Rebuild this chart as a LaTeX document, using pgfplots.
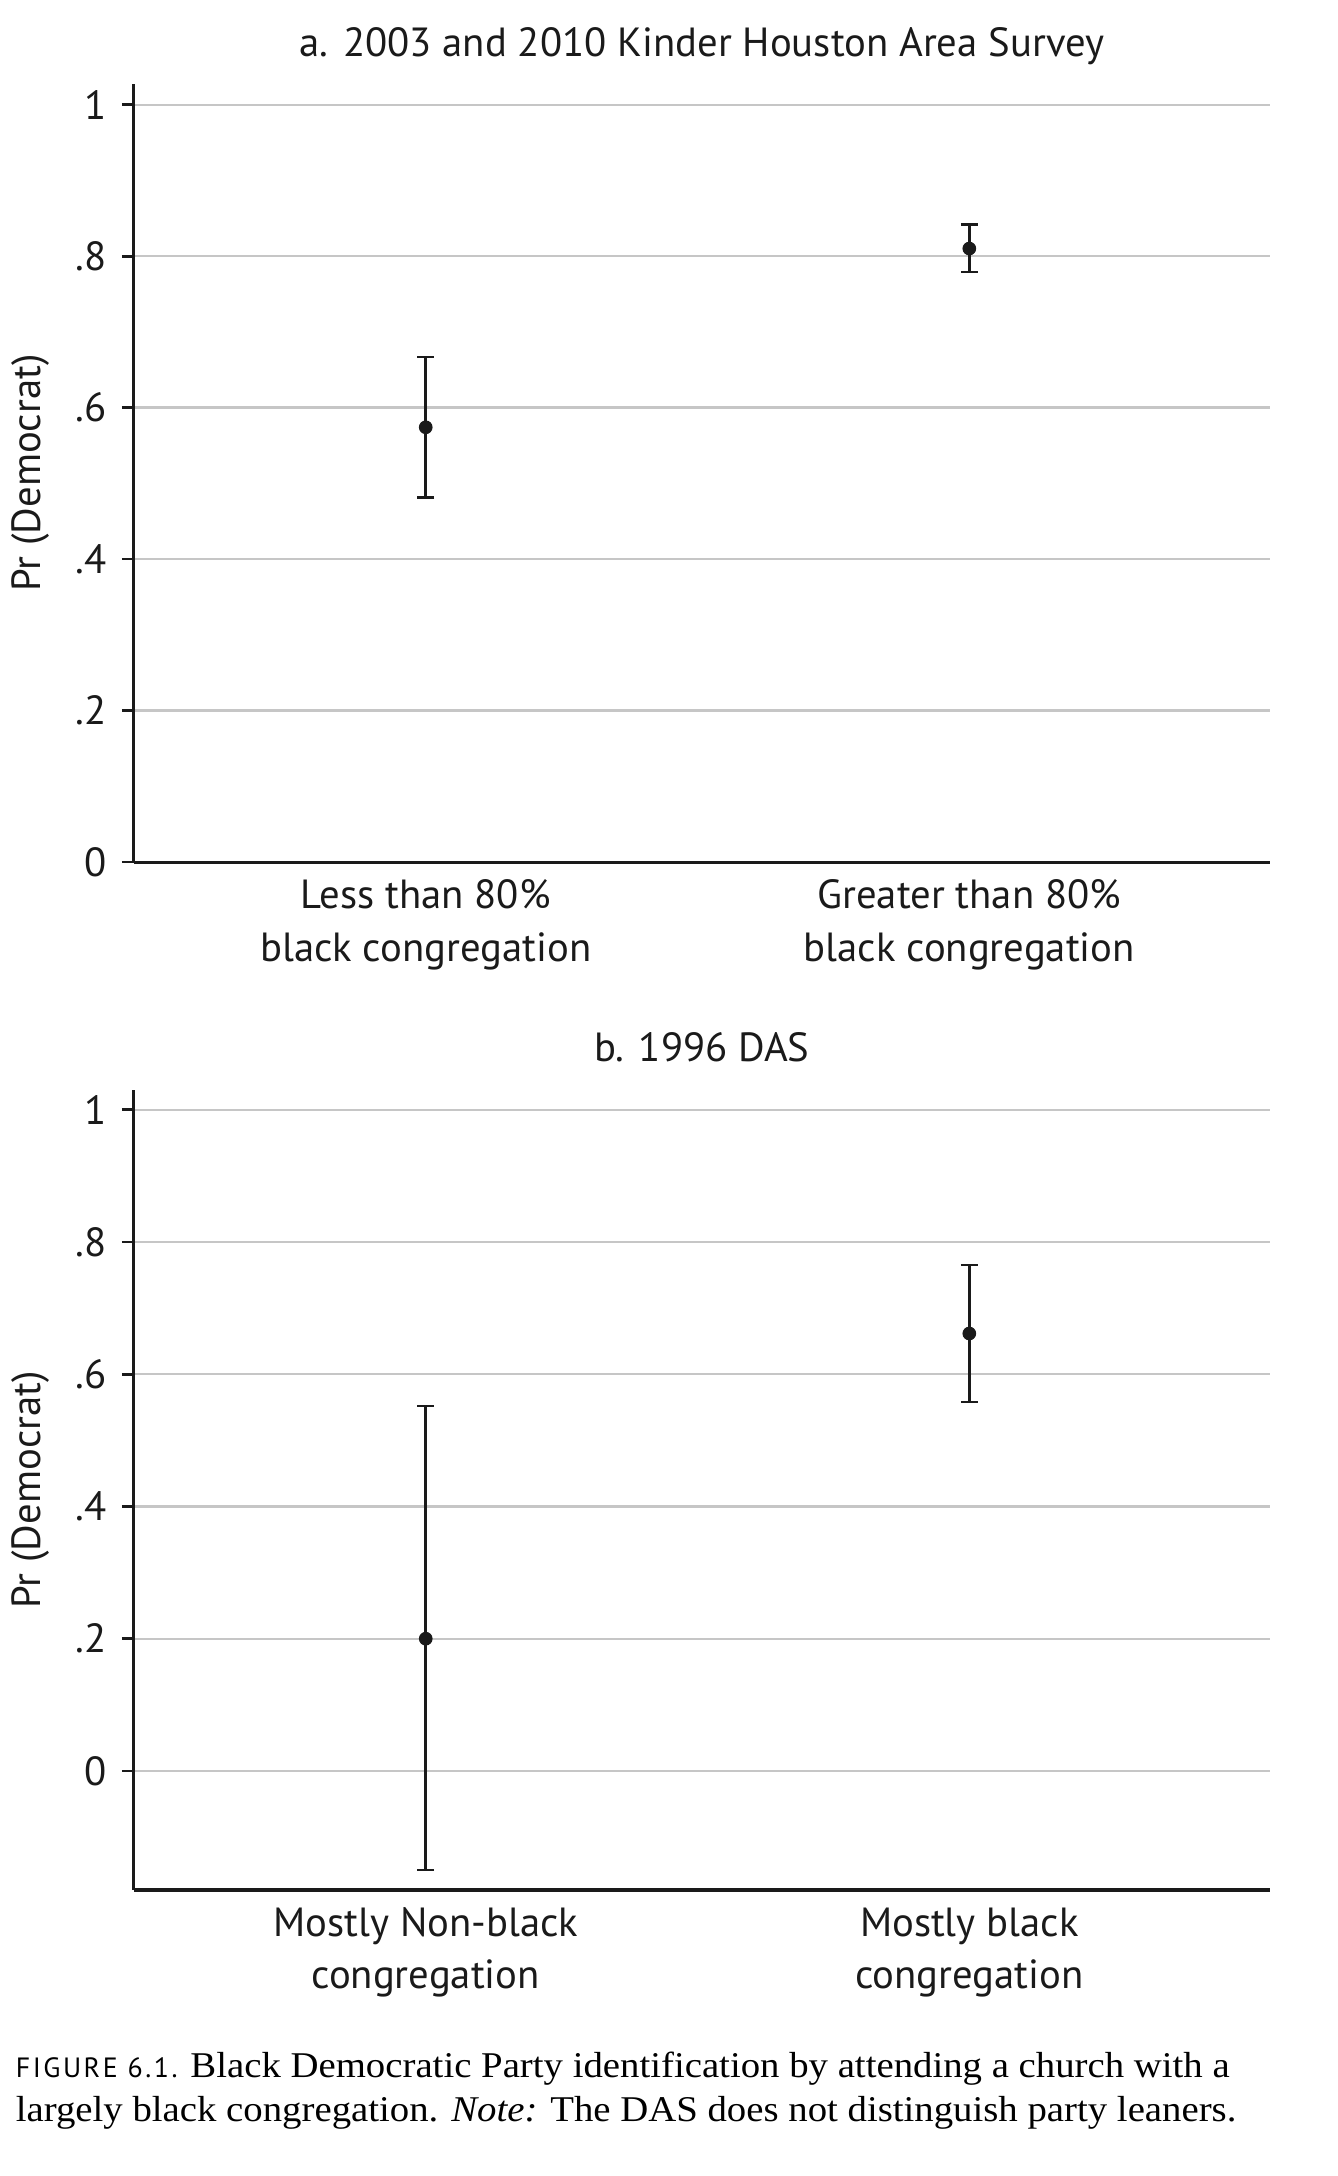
\documentclass[border=0pt]{standalone}
\usepackage{fontspec}
\setmainfont{Liberation Serif}
\newfontfamily\chartfont{PT Sans}
\newfontfamily\capfont[FakeStretch=1.07]{Liberation Serif}
\usepackage{pgfplots}
\pgfplotsset{compat=1.18}

\definecolor{gridgray}{HTML}{C6C6C6}
\definecolor{ink}{HTML}{1A1A1A}

\pgfplotsset{
  panel/.style={
    scale only axis, width=407.5pt,
    xmin=-0.537, xmax=1.553,
    axis x line*=bottom, axis y line*=left,
    axis line style={ink, line width=1.1pt},
    ymajorgrids, grid style={gridgray, line width=0.8pt},
    xtick={0,1}, xtick style={draw=none},
    ytick={0,0.2,0.4,0.6,0.8,1}, yticklabels={0,.2,.4,.6,.8,1},
    tick align=outside, major tick length=4.3pt,
    ytick style={ink, line width=1pt},
    tick label style={font=\chartfont\fontsize{14.6}{18.8}\selectfont, text=ink},
    xticklabel style={align=center, anchor=north, yshift=1.5pt},
    yticklabel style={anchor=east, xshift=-2pt},
    label style={font=\chartfont\fontsize{14.6}{18.8}\selectfont, text=ink},
    ylabel={Pr (Democrat)},
    ylabel style={at={(axis description cs:-0.0908,0.5)}, anchor=center},
    title style={font=\chartfont\fontsize{14.6}{18.8}\selectfont, text=ink,
      at={(axis description cs:0.5,1)}, anchor=base, yshift=4pt},
  },
  errpt/.style={ink, only marks, mark=*, mark size=2.25pt,
    mark options={fill=ink, draw=ink},
    error bars/.cd, y dir=both, y explicit, error mark=|,
    error bar style={line width=0.9pt, ink},
    error mark options={line width=0.9pt, mark size=3pt, ink}},
}

\begin{document}
\begin{tikzpicture}
\useasboundingbox (0,0) rectangle (479.9pt,-780.5pt);

% a. Kinder Houston Area Survey
\begin{axis}[panel,
  at={(48pt,-309.2pt)}, anchor=south west,
  height=279pt, ymin=0, ymax=1.027,
  title={a. 2003 and 2010 Kinder Houston Area Survey},
  xticklabels={{Less than 80\%\\black congregation},{Greater than 80\%\\black congregation}},
]
\addplot+[errpt] coordinates {
  (0,0.574) += (0,0.093) -= (0,0.093)
  (1,0.810) += (0,0.032) -= (0,0.031)
};
\end{axis}

% b. 1996 DAS
\begin{axis}[panel,
  at={(48pt,-677.9pt)}, anchor=south west,
  height=287pt, ymin=-0.18, ymax=1.03,
  title={b. 1996 DAS},
  xticklabels={{Mostly Non-black\\congregation},{Mostly black\\congregation}},
]
\addplot+[errpt] coordinates {
  (0,0.200) += (0,0.352) -= (0,0.350)
  (1,0.6615) += (0,0.1035) -= (0,0.1035)
};
\end{axis}

\node[anchor=base west, inner sep=0pt, align=left, font=\capfont\fontsize{13}{16}\selectfont]
  at (5.5pt,-761pt)
  {{\chartfont\fontsize{10}{16}\selectfont\addfontfeatures{LetterSpace=9}FIGURE 6.1.} Black Democratic Party identification by attending a church with a\\
   largely black congregation. \textit{Note:} The DAS does not distinguish party leaners.};
\end{tikzpicture}
\end{document}
